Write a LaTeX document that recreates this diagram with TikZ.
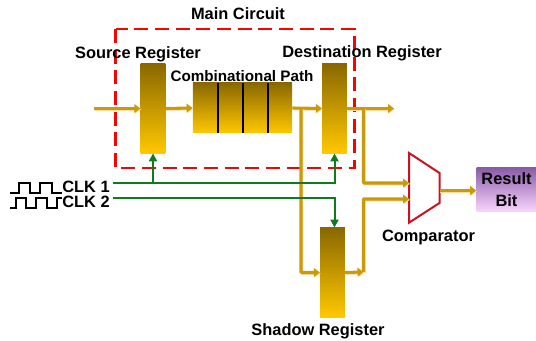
\documentclass[tikz,border=0pt]{standalone}
\usepackage{fontspec}
\setmainfont{Liberation Sans}
\usetikzlibrary{arrows.meta}

\definecolor{regtop}{HTML}{8A6800}
\definecolor{regbot}{HTML}{FFC800}
\definecolor{wirecol}{HTML}{CB9A08}
\definecolor{wirepale}{HTML}{FFD9A8}
\definecolor{clkcol}{HTML}{0F7A1E}
\definecolor{muxcol}{HTML}{C8141E}
\definecolor{restop}{HTML}{8A5CA8}
\definecolor{resbot}{HTML}{F8D4FC}

\tikzset{
    lbl/.style={font=\bfseries\fontsize{12.3}{14}\selectfont, inner sep=0pt},
    reg/.style={rectangle, top color=regtop, bottom color=regbot, minimum width=18.6pt, minimum height=67pt, inner sep=0pt},
    wire/.style={draw=wirecol, line width=2.3pt, preaction={draw=wirepale, line width=2.3pt, transform canvas={shift={(0.6pt,-0.6pt)}}}},
    arr/.style={-{Triangle[length=4.5pt,width=6.5pt]}},
    clk/.style={draw=clkcol, line width=1.5pt},
    clkarr/.style={-{Triangle[length=6pt,width=6pt]}},
    wave/.style={draw=black, line width=1.4pt},
}

\begin{document}
\begin{tikzpicture}[x=0.75pt,y=-0.75pt]
    \useasboundingbox (0,0) rectangle (536,341);

    \draw[red, line width=1.6pt, dash pattern=on 10.5pt off 5pt] (115.5,29) rectangle (354.5,168);

    \node[reg] (source) at (153,108.5) {};
    \node[reg] (dest) at (334.5,108.5) {};
    \node[reg] (shadow) at (332.5,272.5) {};
    \node[rectangle, top color=regtop, bottom color=regbot, minimum width=74.5pt, minimum height=37.5pt, inner sep=0pt] (path) at (242.5,108) {};
    \draw[black, line width=1.5pt] (218,83) -- (218,133) (243,83) -- (243,133) (267.5,83) -- (267.5,133);

    \node[rectangle, top color=restop, bottom color=resbot, minimum width=45pt, minimum height=32.5pt, inner sep=0pt, align=center, lbl] (result) at (506.5,189.5) {Result\\[2pt]Bit};

    \draw[muxcol, line width=1.5pt] (409,153) coordinate (muxtl) -- (439.5,173) -- (439.5,203) -- (409,222.7) coordinate (muxbl) -- cycle;
    \coordinate (muxin1) at (409,183);
    \coordinate (muxin2) at (409,199);
    \coordinate (muxout) at (439.5,190.5);

    % labels
    \node[lbl] (lmain) at (238,14) {Main Circuit};
    \node[lbl] (lsource) at (138,54) {Source Register};
    \node[lbl, font=\bfseries\fontsize{11.4}{14}\selectfont] (lpath) at (242,76) {Combinational Path};
    \node[lbl] (ldest) at (362,53) {Destination Register};
    \node[lbl] (lcomp) at (428.5,237) {Comparator};
    \node[lbl] (lshadow) at (318,331.5) {Shadow Register};
    \node[lbl] (clka) at (86,187) {CLK 1};
    \node[lbl] (clkb) at (86,202) {CLK 2};

    % main data wires
    \coordinate (datain) at (94,108.5);
    \coordinate (dataout) at (394,108.5);
    \coordinate (tapa) at (301,108.5);
    \coordinate (tapb) at (363.5,108.5);
    \coordinate (tapc) at (363.5,272);
    \draw[wire, arr] (datain) -- (source.west);
    \draw[wire, arr] (source.east) -- (path.west);
    \draw[wire, arr] (path.east) -- (dest.west);
    \draw[wire, arr] (dest.east) -- (dataout);
    \draw[wire, arr, rounded corners=0.5pt] (tapa) -- (tapa |- shadow.west) -- (shadow.west);
    \draw[wire, arr, rounded corners=0.5pt] (tapb) -- (tapb |- muxin1) -- (muxin1);
    \draw[wire, arr] (shadow.east) -- (tapc);
    \draw[wire, rounded corners=0.5pt, arr] (tapc) -- (tapc |- muxin2) -- (muxin2);
    \draw[wire, arr] (muxout) -- (result.west |- muxout);

    % clocks
    \coordinate (clkastart) at (113,183);
    \coordinate (clkbstart) at (113,198);
    \draw[clk, clkarr] (clkastart) -- (dest.south |- clkastart) -- (dest.south);
    \draw[clk, clkarr] (source.south |- clkastart) -- (source.south);
    \draw[clk, clkarr] (clkbstart) -- (dest.south |- clkbstart) -- (dest.south |- shadow.north);

    \draw[wave] (10,192.7) -- (19.3,192.7) -- (19.3,182.7) -- (30,182.7) -- (30,192.7) -- (40,192.7) -- (40,182.7) -- (51.7,182.7) -- (51.7,192.7) -- (62,192.7);
    \draw[wave] (10,207.7) -- (16,207.7) -- (16,197.7) -- (26,197.7) -- (26,207.7) -- (36,207.7) -- (36,197.7) -- (46.7,197.7) -- (46.7,207.7) -- (56.7,207.7) -- (56.7,197.7) -- (62,197.7);
\end{tikzpicture}
\end{document}
